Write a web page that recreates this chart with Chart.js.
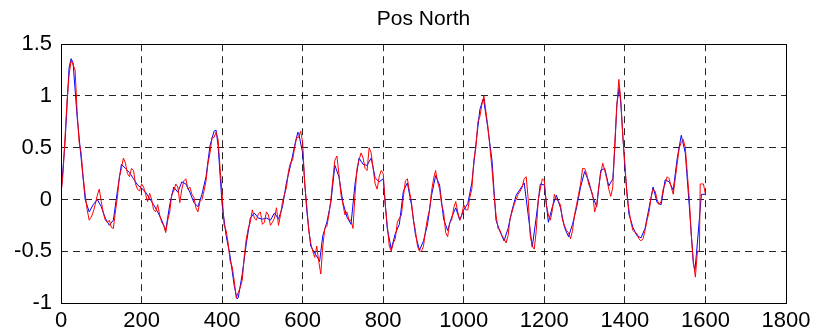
<!DOCTYPE html>
<html>
<head>
<meta charset="utf-8">
<title>Pos North</title>
<script src="https://cdn.jsdelivr.net/npm/chart.js@4.4.1/dist/chart.umd.min.js"></script>
<style>
  html, body { margin: 0; padding: 0; background: #fff; }
  #wrap { width: 820px; height: 333px; }
</style>
</head>
<body>
<div id="wrap"><canvas id="posChart" width="820" height="333"></canvas></div>
<script>
// Sample positions and values
const blueX = [0, 10, 20, 25, 30, 40, 50, 60, 70, 80, 90, 100, 110, 120, 130, 140, 150, 160, 170, 180, 190,
  200, 210, 220, 230, 240, 250, 260, 270, 280, 290, 300, 310, 320, 330, 340, 350, 360, 370, 380, 385, 390,
  400, 410, 420, 430, 437, 440, 450, 460, 470, 480, 490, 500, 510, 520, 530, 540, 550, 560, 570, 580, 588, 590,
  600, 610, 620, 630, 640, 642, 650, 660, 670, 680, 690, 700, 710, 720, 730, 740, 750, 760, 770, 780, 790,
  800, 810, 820, 830, 840, 850, 860, 870, 880, 890, 900, 910, 920, 930, 940, 950, 960, 970, 980, 990,
  1000, 1010, 1020, 1030, 1040, 1048, 1050, 1060, 1070, 1080, 1090, 1100, 1110, 1120, 1130, 1140, 1150, 1160, 1170, 1180, 1190,
  1200, 1210, 1220, 1230, 1240, 1250, 1260, 1270, 1280, 1290, 1300, 1310, 1320, 1330, 1340, 1350, 1360, 1370, 1375, 1380, 1386, 1390,
  1400, 1410, 1420, 1430, 1440, 1450, 1460, 1470, 1480, 1490, 1500, 1510, 1520, 1530, 1540, 1550, 1560, 1570, 1574, 1580, 1590, 1600];
const blueY = [0.05, 0.55, 1.27, 1.36, 1.32, 0.8, 0.4, 0.0, -0.12, -0.05, 0.0, -0.07, -0.18, -0.25, -0.2, 0.08, 0.34, 0.3, 0.26, 0.2, 0.14,
  0.11, 0.07, 0.01, -0.05, -0.12, -0.2, -0.3, -0.05, 0.12, 0.07, 0.17, 0.15, 0.07, -0.03, -0.07, 0.05, 0.22, 0.52, 0.66, 0.67, 0.52,
  -0.05, -0.35, -0.55, -0.83, -0.96, -0.95, -0.72, -0.43, -0.18, -0.13, -0.18, -0.19, -0.18, -0.2, -0.13, -0.19, -0.07, 0.17, 0.33, 0.52, 0.65, 0.64,
  0.45, -0.1, -0.45, -0.52, -0.58, -0.6, -0.35, -0.22, -0.03, 0.33, 0.22, -0.03, -0.17, -0.24, 0.15, 0.4, 0.34, 0.33, 0.4, 0.21, 0.17,
  0.2, -0.28, -0.48, -0.33, -0.24, 0.08, 0.16, -0.05, -0.34, -0.49, -0.4, -0.24, 0.04, 0.23, 0.14, -0.19, -0.3, -0.17, -0.08, -0.2,
  -0.1, -0.04, 0.16, 0.53, 0.87, 0.97, 0.95, 0.68, 0.38, -0.2, -0.31, -0.4, -0.28, -0.1, 0.04, 0.1, 0.16, -0.15, -0.46, -0.17, 0.15,
  0.14, -0.22, -0.07, 0.04, -0.08, -0.27, -0.36, -0.24, -0.08, 0.12, 0.27, 0.18, 0.03, -0.07, 0.28, 0.3, 0.13, 0.2, 0.5, 0.92, 1.08, 0.92,
  0.3, -0.14, -0.27, -0.35, -0.37, -0.28, -0.08, 0.12, -0.03, -0.05, 0.19, 0.17, 0.09, 0.4, 0.62, 0.45, -0.07, -0.62, -0.68, -0.42, 0.05, 0.05];

// the red trace is noisier, so it is sampled every 5 units
const redX = [0, 5, 10, 15, 20, 25, 30, 35, 40, 45, 50, 55, 60, 65, 70, 75, 80, 85, 90, 95,
  100, 105, 110, 115, 120, 125, 130, 135, 140, 145, 150, 155, 160, 165, 170, 175, 180, 185, 190, 195,
  200, 205, 210, 215, 220, 225, 230, 235, 240, 245, 250, 255, 260, 265, 270, 275, 280, 285, 290, 295,
  300, 305, 310, 315, 320, 325, 330, 335, 340, 345, 350, 355, 360, 365, 370, 375, 380, 385, 390, 395,
  400, 405, 410, 415, 420, 425, 430, 435, 440, 445, 450, 455, 460, 465, 470, 475, 480, 485, 490, 495,
  500, 505, 510, 515, 520, 525, 530, 535, 540, 545, 550, 555, 560, 565, 570, 575, 580, 585, 590, 595,
  600, 605, 610, 615, 620, 625, 630, 635, 640, 645, 650, 655, 660, 665, 670, 675, 680, 685, 690, 695,
  700, 705, 710, 715, 720, 725, 730, 735, 740, 745, 750, 755, 760, 765, 770, 775, 780, 785, 790, 795,
  800, 805, 810, 815, 820, 825, 830, 835, 840, 845, 850, 855, 860, 865, 870, 875, 880, 885, 890, 895,
  900, 905, 910, 915, 920, 925, 930, 935, 940, 945, 950, 955, 960, 965, 970, 975, 980, 985, 990, 995,
  1000, 1005, 1010, 1015, 1020, 1025, 1030, 1035, 1040, 1045, 1050, 1055, 1060, 1065, 1070, 1075, 1080, 1085, 1090, 1095,
  1100, 1105, 1110, 1115, 1120, 1125, 1130, 1135, 1140, 1145, 1150, 1155, 1160, 1165, 1170, 1175, 1180, 1185, 1190, 1195,
  1200, 1205, 1210, 1215, 1220, 1225, 1230, 1235, 1240, 1245, 1250, 1255, 1260, 1265, 1270, 1275, 1280, 1285, 1290, 1295,
  1300, 1305, 1310, 1315, 1320, 1325, 1330, 1335, 1340, 1345, 1350, 1355, 1360, 1365, 1370, 1375, 1380, 1385, 1390, 1395,
  1400, 1405, 1410, 1415, 1420, 1425, 1430, 1435, 1440, 1445, 1450, 1455, 1460, 1465, 1470, 1475, 1480, 1485, 1490, 1495,
  1500, 1505, 1510, 1515, 1520, 1525, 1530, 1535, 1540, 1545, 1550, 1555, 1560, 1565, 1570, 1575, 1580, 1585, 1587, 1590, 1595, 1600];
const redY = [0.05, 0.25, 0.6, 0.95, 1.2, 1.34, 1.3, 1.25, 0.85, 0.55, 0.45, 0.22, 0.05, -0.1, -0.2, -0.17, -0.12, -0.05, 0.04, 0.1,
  -0.02, -0.13, -0.2, -0.22, -0.2, -0.27, -0.28, -0.12, 0.02, 0.22, 0.3, 0.4, 0.35, 0.25, 0.22, 0.3, 0.28, 0.15, 0.1, 0.08,
  0.15, 0.12, 0.05, -0.02, 0.06, 0.0, -0.1, -0.12, -0.05, -0.15, -0.22, -0.25, -0.32, -0.2, -0.12, 0.05, 0.08, 0.15, 0.12, -0.03,
  0.1, 0.18, 0.2, 0.1, 0.12, 0.05, 0.02, -0.08, -0.12, -0.02, 0.0, 0.08, 0.18, 0.35, 0.45, 0.6, 0.6, 0.65, 0.58, 0.3,
  0.05, -0.25, -0.3, -0.42, -0.6, -0.65, -0.78, -0.95, -0.9, -0.85, -0.78, -0.55, -0.38, -0.28, -0.22, -0.1, -0.18, -0.2, -0.14, -0.12,
  -0.24, -0.22, -0.12, -0.15, -0.25, -0.22, -0.18, -0.08, -0.25, -0.15, -0.02, 0.05, 0.12, 0.28, 0.36, 0.38, 0.5, 0.6, 0.6, 0.66,
  0.55, 0.15, -0.05, -0.3, -0.42, -0.5, -0.56, -0.45, -0.6, -0.72, -0.45, -0.28, -0.26, -0.15, 0.0, 0.2, 0.38, 0.42, 0.25, 0.05,
  -0.05, -0.15, -0.12, -0.2, -0.2, -0.28, 0.05, 0.3, 0.38, 0.45, 0.4, 0.3, 0.28, 0.5, 0.45, 0.3, 0.15, 0.1, 0.22, 0.28,
  0.25, -0.05, -0.25, -0.45, -0.5, -0.42, -0.38, -0.22, -0.18, -0.15, 0.02, 0.18, 0.2, 0.08, -0.02, -0.2, -0.3, -0.45, -0.5, -0.5,
  -0.45, -0.3, -0.18, -0.1, 0.08, 0.2, 0.28, 0.17, 0.1, -0.05, -0.12, -0.32, -0.36, -0.22, -0.2, -0.08, -0.02, -0.12, -0.2, -0.15,
  -0.05, -0.1, -0.1, 0.02, 0.1, 0.38, 0.5, 0.75, 0.8, 0.92, 1.0, 0.85, 0.7, 0.5, 0.3, 0.05, -0.15, -0.28, -0.3, -0.35,
  -0.38, -0.42, -0.35, -0.18, -0.12, -0.05, 0.0, 0.05, 0.08, 0.12, 0.2, 0.22, 0.0, -0.35, -0.45, -0.48, -0.3, 0.0, 0.1, 0.2,
  0.18, -0.05, -0.15, -0.2, -0.1, 0.05, 0.0, -0.02, -0.05, -0.2, -0.25, -0.3, -0.32, -0.38, -0.3, -0.15, -0.05, 0.05, 0.15, 0.3,
  0.3, 0.25, 0.15, 0.1, 0.05, -0.12, -0.05, 0.12, 0.25, 0.35, 0.28, 0.2, 0.1, 0.03, 0.12, 0.55, 0.9, 1.16, 0.95, 0.6,
  0.35, 0.05, -0.1, -0.22, -0.3, -0.32, -0.33, -0.38, -0.4, -0.38, -0.3, -0.2, -0.12, 0.02, 0.1, 0.08, 0.0, -0.05, -0.02, 0.1,
  0.15, 0.22, 0.2, 0.12, 0.05, 0.2, 0.35, 0.5, 0.55, 0.58, 0.5, 0.25, 0.0, -0.35, -0.6, -0.75, -0.5, -0.5, 0.15, 0.15, 0.15, 0.05];

const xTicks = [0, 200, 400, 600, 800, 1000, 1200, 1400, 1600, 1800];
const yTicks = [-1, -0.5, 0, 0.5, 1, 1.5];

function toPoints(xs, ys) {
    return xs.map((x, i) => ({ x: x, y: ys[i] }));
}

// draws the solid box round the plot area, like the matlab axes
const boxPlugin = {
    id: 'box',
    afterDraw(chart) {
        const a = chart.chartArea;
        const ctx = chart.ctx;
        ctx.save();
        ctx.strokeStyle = '#000';
        ctx.lineWidth = 1;
        ctx.setLineDash([]);
        ctx.strokeRect(Math.round(a.left) + 0.5, Math.round(a.top) + 0.5,
            Math.round(a.right - a.left), Math.round(a.bottom - a.top));
        ctx.restore();
    }
};

document.addEventListener('DOMContentLoaded', function () {
    const ctx = document.getElementById('posChart').getContext('2d');
    const tickFont = { family: '"Liberation Sans", Arial, sans-serif', size: 22 };

    new Chart(ctx, {
        type: 'line',
        data: {
            // red first so it is drawn on top of the blue trace
            datasets: [{
                label: 'red',
                data: toPoints(redX, redY),
                borderColor: '#ff0000',
                borderWidth: 1,
                pointRadius: 0,
                tension: 0
            }, {
                label: 'blue',
                data: toPoints(blueX, blueY),
                borderColor: '#0000ff',
                borderWidth: 1,
                pointRadius: 0,
                tension: 0
            }]
        },
        options: {
            responsive: false,
            animation: false,
            layout: { padding: { left: 0, right: 34, top: 0, bottom: 0 } },
            plugins: {
                legend: { display: false },
                tooltip: { enabled: false },
                title: {
                    display: true,
                    text: 'Pos North',
                    fullSize: false,
                    color: '#000',
                    font: { family: '"Liberation Sans", Arial, sans-serif', size: 21, weight: 'normal', lineHeight: 1.2 },
                    padding: { top: 7, bottom: 12 }
                }
            },
            scales: {
                x: {
                    type: 'linear',
                    min: 0,
                    max: 1800,
                    afterBuildTicks: axis => { axis.ticks = xTicks.map(v => ({ value: v })); },
                    afterFit: axis => { axis.height = 30; },
                    ticks: { color: '#000', font: tickFont, padding: 5, maxRotation: 0, callback: v => String(v) },
                    grid: { color: 'rgba(0,0,0,0.85)', drawTicks: false },
                    border: { display: false, dash: [7, 5] }
                },
                y: {
                    min: -1,
                    max: 1.5,
                    afterBuildTicks: axis => { axis.ticks = yTicks.map(v => ({ value: v })); },
                    afterFit: axis => { axis.width = 61; },
                    ticks: { color: '#000', font: tickFont, padding: 9, callback: v => String(v) },
                    grid: { color: 'rgba(0,0,0,0.85)', drawTicks: false },
                    border: { display: false, dash: [7, 5] }
                }
            }
        },
        plugins: [boxPlugin]
    });
});
</script>
</body>
</html>
